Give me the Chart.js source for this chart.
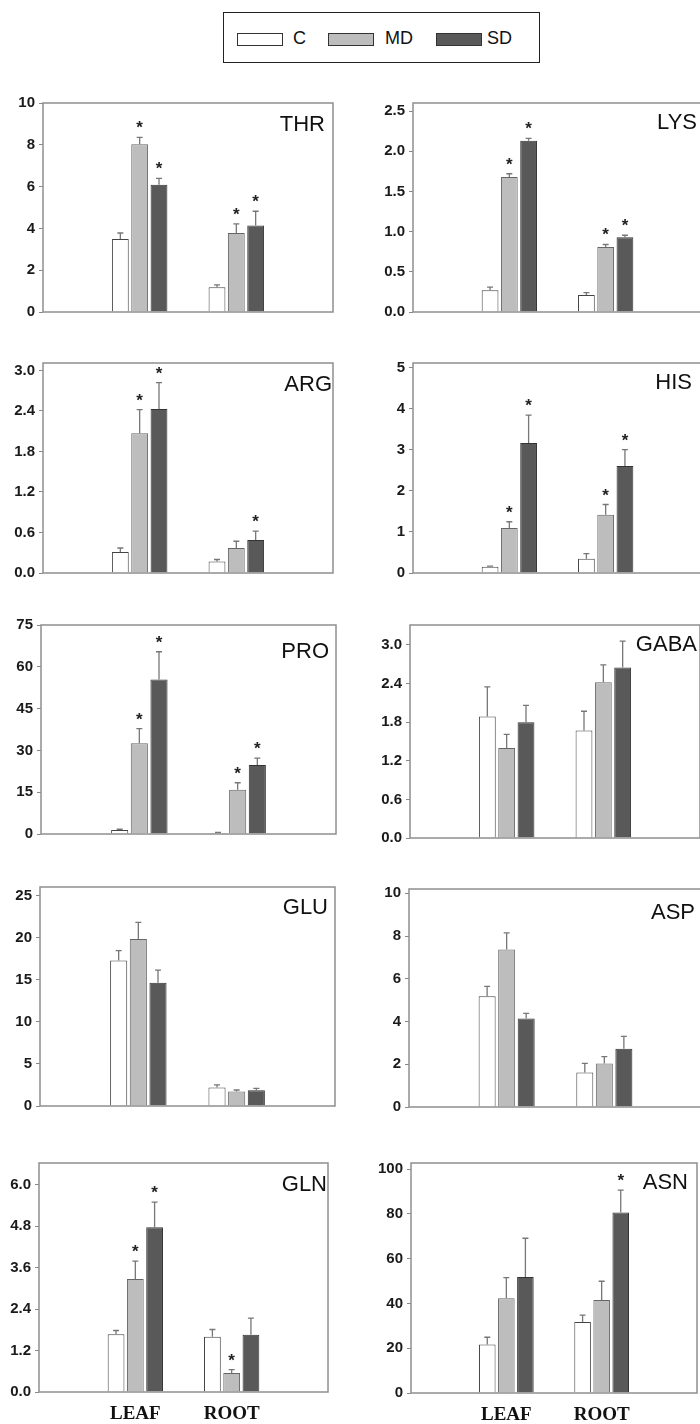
<!DOCTYPE html>
<html>
<head>
<meta charset="utf-8">
<script src="https://cdn.jsdelivr.net/npm/chart.js@4.4.0/dist/chart.umd.min.js"></script>
<style>
  body { margin: 0; width: 700px; height: 1424px; overflow: hidden; background: #fff; position: relative;
         font-family: "Liberation Sans", Arial, sans-serif; }
  canvas { position: absolute; }
  #legend { position: absolute; left: 223px; top: 12px; width: 317px; height: 51px; border: 1px solid #222; box-sizing: border-box; }
  .sw { position: absolute; top: 20px; width: 46px; height: 13px; border: 1px solid #333; box-sizing: border-box; }
  .lt { position: absolute; top: 15px; font-size: 18px; color: #111; line-height: 20px; }
</style>
</head>
<body>
<div id="legend">
  <div class="sw" style="left:13px;background:#fff"></div><div class="lt" style="left:69px">C</div>
  <div class="sw" style="left:104px;background:#bdbdbd"></div><div class="lt" style="left:161px">MD</div>
  <div class="sw" style="left:212px;background:#595959"></div><div class="lt" style="left:263px">SD</div>
</div>
<script>
// amino acids, one small chart each
const panels = ['THR', 'LYS', 'ARG', 'HIS', 'PRO', 'GABA', 'GLU', 'ASP', 'GLN', 'ASN'];
const groups = ['LEAF', 'ROOT'];
const series = ['C', 'MD', 'SD'];

// means [leaf, root]
const cMean  = [[3.49, 1.18], [0.27, 0.21], [0.31, 0.17], [0.15, 0.35], [1.4, 0.35],
                [1.89, 1.67], [17.27, 2.2], [5.18, 1.61], [1.67, 1.60], [21.7, 31.7]];
const mdMean = [[8.03, 3.78], [1.68, 0.81], [2.07, 0.37], [1.10, 1.42], [32.6, 15.9],
                [1.40, 2.42], [19.83, 1.71], [7.37, 2.04], [3.27, 0.55], [42.3, 41.5]];
const sdMean = [[6.09, 4.14], [2.13, 0.93], [2.43, 0.49], [3.17, 2.61], [55.4, 24.8],
                [1.80, 2.65], [14.62, 1.86], [4.14, 2.72], [4.77, 1.66], [51.8, 80.6]];

// error (upper) [leaf, root]
const cErr  = [[0.29, 0.12], [0.04, 0.03], [0.06, 0.03], [0.02, 0.12], [0.3, 0.2],
               [0.46, 0.30], [1.18, 0.3], [0.46, 0.43], [0.11, 0.21], [3.2, 3.1]];
const mdErr = [[0.33, 0.44], [0.04, 0.03], [0.35, 0.10], [0.15, 0.25], [5.2, 2.5],
               [0.21, 0.27], [1.97, 0.19], [0.78, 0.32], [0.52, 0.10], [9.2, 8.4]];
const sdErr = [[0.30, 0.68], [0.03, 0.025], [0.39, 0.13], [0.68, 0.40], [10.0, 2.4],
               [0.26, 0.41], [1.52, 0.24], [0.24, 0.58], [0.73, 0.48], [17.3, 10.0]];

// significance asterisks [leaf, root]
const cStar  = [[0,0],[0,0],[0,0],[0,0],[0,0],[0,0],[0,0],[0,0],[0,0],[0,0]];
const mdStar = [[1,1],[1,1],[1,0],[1,1],[1,1],[0,0],[0,0],[0,0],[1,1],[0,0]];
const sdStar = [[1,1],[1,1],[1,1],[1,1],[1,1],[0,0],[0,0],[0,0],[1,0],[0,1]];

// y axes
const yMax    = [10, 2.6, 3.11, 5.12, 75, 3.31, 26, 10.2, 6.63, 102.7];
const yStep   = [2, 0.5, 0.6, 1, 15, 0.6, 5, 2, 1.2, 20];
const yDigits = [0, 1, 1, 0, 0, 1, 0, 0, 1, 0];

// plot area on the page: left, top, right, bottom, label dx, label dy
const boxes = [
  [43, 103, 333, 321, 8, 12],   [413, 103, 702, 321, 5, 10],
  [43, 363, 333, 582, 1, 12],   [413, 363, 702, 582, 10, 10],
  [41, 625, 336, 843, 7, 17],   [410, 625, 700, 847, 3, 10],
  [40, 887, 335, 1115, 7, 11],  [409, 889, 702, 1116, 7, 14],
  [39, 1163, 333, 1392, 1, 12], [411, 1163, 702, 1393, 9, 10]
];

const fills   = ['#ffffff', '#bdbdbd', '#595959'];
const borders = ['#444444', '#666666', '#333333'];

const decor = {
  id: 'decor',
  afterDatasetsDraw(chart, args, opts) {
    const ctx = chart.ctx, a = chart.chartArea, y = chart.scales.y;
    ctx.save();
    // error bars and stars
    chart.data.datasets.forEach((ds, di) => {
      const meta = chart.getDatasetMeta(di);
      ds.data.forEach((v, i) => {
        if (v == null) return;
        const bar = meta.data[i];
        const top = y.getPixelForValue(v + ds.err[i]);
        ctx.strokeStyle = '#777';
        ctx.lineWidth = 1.3;
        ctx.beginPath();
        ctx.moveTo(bar.x, bar.y);
        ctx.lineTo(bar.x, top);
        ctx.moveTo(bar.x - 3, top);
        ctx.lineTo(bar.x + 3, top);
        ctx.stroke();
        if (ds.star[i]) {
          ctx.fillStyle = '#222';
          ctx.font = 'bold 17px "Liberation Sans", Arial, sans-serif';
          ctx.textAlign = 'center';
          ctx.textBaseline = 'alphabetic';
          ctx.fillText('*', bar.x, top - 4);
        }
      });
    });
    // frame
    ctx.strokeStyle = '#8f8f8f';
    ctx.lineWidth = 1.5;
    ctx.strokeRect(a.left, a.top, a.right - a.left, a.bottom - a.top);
    // amino acid name
    ctx.fillStyle = '#111';
    ctx.font = '22px "Liberation Sans", Arial, sans-serif';
    ctx.textAlign = 'right';
    ctx.textBaseline = 'alphabetic';
    ctx.fillText(opts.label, a.right - opts.dx, a.top + opts.dy + 16);
    ctx.restore();
  }
};

const padT = 14, padR = 6, axisW = 45;
const means = [cMean, mdMean, sdMean], errs = [cErr, mdErr, sdErr], stars = [cStar, mdStar, sdStar];

panels.forEach((name, p) => {
  const [L, T, R, B, dx, dy] = boxes[p];
  const bottomRow = p >= 8;
  const xH = bottomRow ? 32 : 0;
  const padB = bottomRow ? 0 : 4;
  const cv = document.createElement('canvas');
  const W = R - L + axisW + padR, H = B - T + padT + xH + padB;
  cv.width = W; cv.height = H;
  cv.style.left = (L - axisW) + 'px';
  cv.style.top = (T - padT) + 'px';
  document.body.appendChild(cv);

  new Chart(cv, {
    type: 'bar',
    data: {
      labels: ['', ...groups, ''],
      datasets: series.map((s, k) => ({
        label: s,
        data: [null, means[k][p][0], means[k][p][1], null],
        err: [0, errs[k][p][0], errs[k][p][1], 0],
        star: [0, stars[k][p][0], stars[k][p][1], 0],
        backgroundColor: fills[k],
        borderColor: borders[k],
        borderWidth: 1,
        categoryPercentage: 0.6,
        barPercentage: 0.87
      }))
    },
    options: {
      responsive: false,
      animation: false,
      devicePixelRatio: 1,
      layout: { padding: { left: 0, top: padT, right: padR, bottom: padB } },
      plugins: {
        legend: { display: false },
        tooltip: { enabled: false },
        decor: { label: name, dx: dx, dy: dy }
      },
      scales: {
        x: {
          display: bottomRow,
          offset: false,
          grid: { display: false, drawTicks: false },
          border: { display: false },
          ticks: {
            autoSkip: false, maxRotation: 0, padding: 11, color: '#111',
            font: { family: '"Liberation Serif", "Times New Roman", serif', size: 19, weight: 'bold' }
          },
          afterFit: s => { s.height = xH; }
        },
        y: {
          min: 0,
          max: yMax[p],
          grid: { drawOnChartArea: false, drawTicks: true, tickLength: 4, tickColor: '#888' },
          border: { display: false },
          ticks: {
            stepSize: yStep[p], includeBounds: false, padding: 4, color: '#1a1a1a',
            font: { family: '"Liberation Sans", Arial, sans-serif', size: 15, weight: 'bold' },
            callback: v => Number(v).toFixed(yDigits[p])
          },
          afterFit: s => { s.width = axisW; }
        }
      }
    },
    plugins: [decor]
  });
});
</script>
</body>
</html>
